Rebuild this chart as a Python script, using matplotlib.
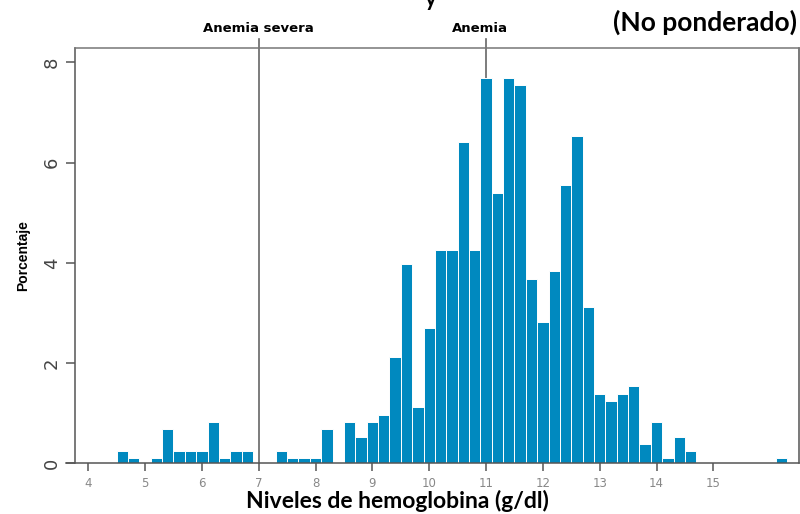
import matplotlib.pyplot as plt

# --- datos (centro del intervalo de 0.2 g/dl, porcentaje) ---
hemoglobina = [4.6, 4.8, 5.2, 5.4, 5.6, 5.8, 6.0, 6.2, 6.4, 6.6, 6.8,
               7.4, 7.6, 7.8, 8.0, 8.2, 8.6, 8.8, 9.0, 9.2, 9.4, 9.6, 9.8,
               10.0, 10.2, 10.4, 10.6, 10.8, 11.0, 11.2, 11.4, 11.6, 11.8,
               12.0, 12.2, 12.4, 12.6, 12.8, 13.0, 13.2, 13.4, 13.6, 13.8,
               14.0, 14.2, 14.4, 14.6, 16.2]
porcentaje = [0.25, 0.1, 0.1, 0.68, 0.25, 0.25, 0.25, 0.82, 0.1, 0.25, 0.25,
              0.25, 0.1, 0.1, 0.1, 0.68, 0.82, 0.53, 0.82, 0.97, 2.12, 3.97, 1.12,
              2.69, 4.25, 4.25, 6.41, 4.25, 7.69, 5.39, 7.69, 7.55, 3.68,
              2.81, 3.83, 5.55, 6.54, 3.11, 1.38, 1.25, 1.38, 1.54, 0.39,
              0.82, 0.1, 0.53, 0.25, 0.1]

x_ticks = [4, 5, 6, 7, 8, 9, 10, 11, 12, 13, 14, 15]
y_ticks = [0, 2, 4, 6, 8]
umbrales = [7, 11]
umbral_labels = ['Anemia severa', 'Anemia']

AZUL = '#0089bf'
GRIS = '#666666'

fig = plt.figure(figsize=(8, 5.14), dpi=100)
ax = fig.add_axes([0.094, 0.0986, 0.905, 0.8074])

ax.bar(hemoglobina, porcentaje, width=0.2, color=AZUL, edgecolor='white',
       linewidth=0.7, zorder=3)

# lineas de umbral (detras de las barras, sobresalen por arriba)
for xv, lab, xoff in zip(umbrales, umbral_labels, [0, -0.1]):
    ax.plot([xv, xv], [0, 8.47], color=GRIS, lw=1.2, zorder=2, clip_on=False)
    ax.text(xv + xoff, 8.55, lab, ha='center', va='bottom', fontsize=9.5,
            fontweight='bold', family='DejaVu Sans')

ax.set_xlim(3.771, 16.51)
ax.set_ylim(0, 8.28)

for s in ['left', 'right', 'top']:
    ax.spines[s].set_color('#555555')
    ax.spines[s].set_linewidth(1.1)
ax.spines['top'].set_color('#777777')
ax.spines['bottom'].set_visible(False)
ax.axhline(0, xmin=-0.0125, xmax=1, color='#555555', lw=1.1, clip_on=False, zorder=4)

ax.set_xticks(x_ticks)
ax.set_xticklabels([str(t) for t in x_ticks])
ax.set_yticks(y_ticks)
ax.set_yticklabels([str(t) for t in y_ticks], rotation=90, va='center')
ax.tick_params(axis='y', length=6.5, width=1.1, color='#555555', labelsize=13,
               labelcolor='#444444', pad=4)
ax.tick_params(axis='x', length=6, width=1.1, color='#555555', labelsize=8.5,
               labelcolor='#888888', pad=4)

ax.set_ylabel('Porcentaje', fontsize=10, fontweight='bold',
              family='Liberation Sans', labelpad=9)

fig.text(0.497, 0.004, 'Niveles de hemoglobina (g/dl)', ha='center', va='bottom',
         fontsize=16.5, fontweight='bold', family='Lato')

fig.text(0.996, 0.957, '(No ponderado)', ha='right', va='center', fontsize=19,
         fontweight='bold', family='Lato')
# titulo cortado en el borde superior
fig.text(0.538, 0.988, 'y', ha='center', va='baseline', fontsize=16,
         fontweight='bold', family='Lato')

fig.savefig('out.png', dpi=100)
